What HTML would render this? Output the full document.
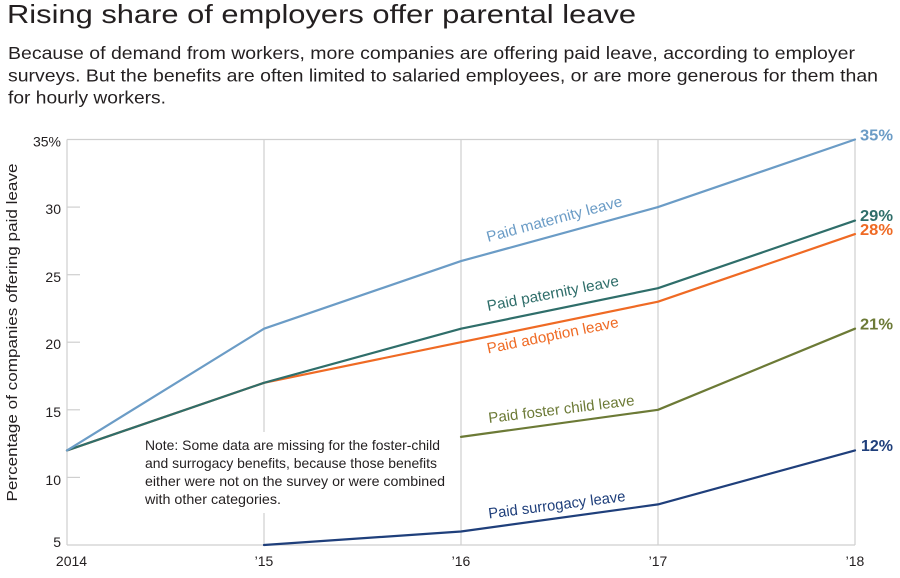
<!DOCTYPE html>
<html>
<head>
<meta charset="utf-8">
<style>
  html, body { margin: 0; padding: 0; background: #ffffff; }
  svg { display: block; }
  text { font-family: "Liberation Sans", "DejaVu Sans", sans-serif; }
</style>
</head>
<body>
<svg width="900" height="578" viewBox="0 0 900 578" xmlns="http://www.w3.org/2000/svg">
  <rect x="0" y="0" width="900" height="578" fill="#ffffff"/>

  <!-- Title & subtitle -->
  <text x="7" y="23" font-size="26" fill="#231f20" textLength="629" lengthAdjust="spacingAndGlyphs">Rising share of employers offer parental leave</text>
  <text x="8" y="59" font-size="17.5" fill="#231f20" textLength="847" lengthAdjust="spacingAndGlyphs">Because of demand from workers, more companies are offering paid leave, according to employer</text>
  <text x="8" y="81.5" font-size="17.5" fill="#231f20" textLength="870" lengthAdjust="spacingAndGlyphs">surveys. But the benefits are often limited to salaried employees, or are more generous for them than</text>
  <text x="8" y="103.5" font-size="17.5" fill="#231f20" textLength="158" lengthAdjust="spacingAndGlyphs">for hourly workers.</text>

  <!-- Gridlines -->
  <g stroke="#cfcfcf" stroke-width="1.2" fill="none">
    <line x1="264" y1="139.5" x2="264" y2="545"/>
    <line x1="461" y1="139.5" x2="461" y2="545"/>
    <line x1="658" y1="139.5" x2="658" y2="545"/>
  </g>

  <!-- Note background (interrupts gridline) -->
  <rect x="140" y="432" width="312" height="81" fill="#ffffff"/>

  <!-- Frame -->
  <g stroke="#cfcfcf" stroke-width="1.2" fill="none">
    <line x1="67" y1="139.5" x2="855" y2="139.5"/>
    <line x1="67" y1="139.5" x2="67" y2="545"/>
    <line x1="855" y1="139.5" x2="855" y2="545"/>
    <line x1="67" y1="545" x2="855" y2="545"/>
    <!-- y ticks -->
    <line x1="67" y1="207.1" x2="80" y2="207.1"/>
    <line x1="67" y1="274.7" x2="80" y2="274.7"/>
    <line x1="67" y1="342.2" x2="80" y2="342.2"/>
    <line x1="67" y1="409.8" x2="80" y2="409.8"/>
    <line x1="67" y1="477.4" x2="80" y2="477.4"/>
  </g>

  <!-- Y tick labels -->
  <g font-size="14" fill="#231f20" text-anchor="end">
    <text x="61" y="146.5">35%</text>
    <text x="61" y="214">30</text>
    <text x="61" y="282">25</text>
    <text x="61" y="349">20</text>
    <text x="61" y="417">15</text>
    <text x="61" y="485">10</text>
    <text x="61" y="547">5</text>
  </g>

  <!-- Y axis title -->
  <text transform="translate(17,332.5) rotate(-90)" text-anchor="middle" font-size="15" fill="#231f20" textLength="338" lengthAdjust="spacingAndGlyphs">Percentage of companies offering paid leave</text>

  <!-- X labels -->
  <g font-size="14" fill="#231f20" text-anchor="middle">
    <text x="71.5" y="566">2014</text>
    <text x="264" y="566">’15</text>
    <text x="461" y="566">’16</text>
    <text x="658" y="566">’17</text>
    <text x="855" y="566">’18</text>
  </g>

  <!-- Series -->
  <g fill="none" stroke-width="2.2" stroke-linejoin="round" stroke-linecap="round">
    <!-- adoption (under paternity) -->
    <polyline stroke="#ef6a24" points="67,450.4 264,382.8 461,342.2 658,301.7 855,234.1"/>
    <!-- paternity -->
    <polyline stroke="#2f6e6a" points="67,450.4 264,382.8 461,328.7 658,288.2 855,220.6"/>
    <!-- maternity -->
    <polyline stroke="#6b9cc6" points="67,450.4 264,328.7 461,261.1 658,207.1 855,139.5"/>
    <!-- foster -->
    <polyline stroke="#6c7a36" points="461,436.9 658,409.8 855,328.7"/>
    <!-- surrogacy -->
    <polyline stroke="#1f3f7b" points="264,545 461,531.5 658,504.4 855,450.4"/>
  </g>

  <!-- Series labels -->
  <g font-size="15">
    <text transform="translate(488,242) rotate(-15)" fill="#6b9cc6" textLength="140" lengthAdjust="spacingAndGlyphs">Paid maternity leave</text>
    <text transform="translate(488,311) rotate(-11)" fill="#2f6e6a" textLength="134" lengthAdjust="spacingAndGlyphs">Paid paternity leave</text>
    <text transform="translate(488,353.5) rotate(-11.5)" fill="#ef6a24" textLength="134" lengthAdjust="spacingAndGlyphs">Paid adoption leave</text>
    <text transform="translate(489,423) rotate(-7)" fill="#6c7a36" textLength="147" lengthAdjust="spacingAndGlyphs">Paid foster child leave</text>
    <text transform="translate(489,518.5) rotate(-7.3)" fill="#1f3f7b" textLength="138" lengthAdjust="spacingAndGlyphs">Paid surrogacy leave</text>
  </g>

  <!-- End labels -->
  <g font-size="15.5" font-weight="bold">
    <text x="860" y="140.5" fill="#6b9cc6" textLength="33" lengthAdjust="spacingAndGlyphs">35%</text>
    <text x="860" y="221" fill="#2f6e6a" textLength="33" lengthAdjust="spacingAndGlyphs">29%</text>
    <text x="860" y="235" fill="#ef6a24" textLength="33" lengthAdjust="spacingAndGlyphs">28%</text>
    <text x="860" y="329.5" fill="#6c7a36" textLength="33" lengthAdjust="spacingAndGlyphs">21%</text>
    <text x="861" y="451" fill="#1f3f7b" textLength="32" lengthAdjust="spacingAndGlyphs">12%</text>
  </g>

  <!-- Note -->
  <g font-size="14" fill="#231f20">
    <text x="145" y="450" textLength="295" lengthAdjust="spacingAndGlyphs">Note: Some data are missing for the foster-child</text>
    <text x="145" y="468" textLength="292" lengthAdjust="spacingAndGlyphs">and surrogacy benefits, because those benefits</text>
    <text x="145" y="486" textLength="300" lengthAdjust="spacingAndGlyphs">either were not on the survey or were combined</text>
    <text x="145" y="504" textLength="136" lengthAdjust="spacingAndGlyphs">with other categories.</text>
  </g>
</svg>
</body>
</html>
